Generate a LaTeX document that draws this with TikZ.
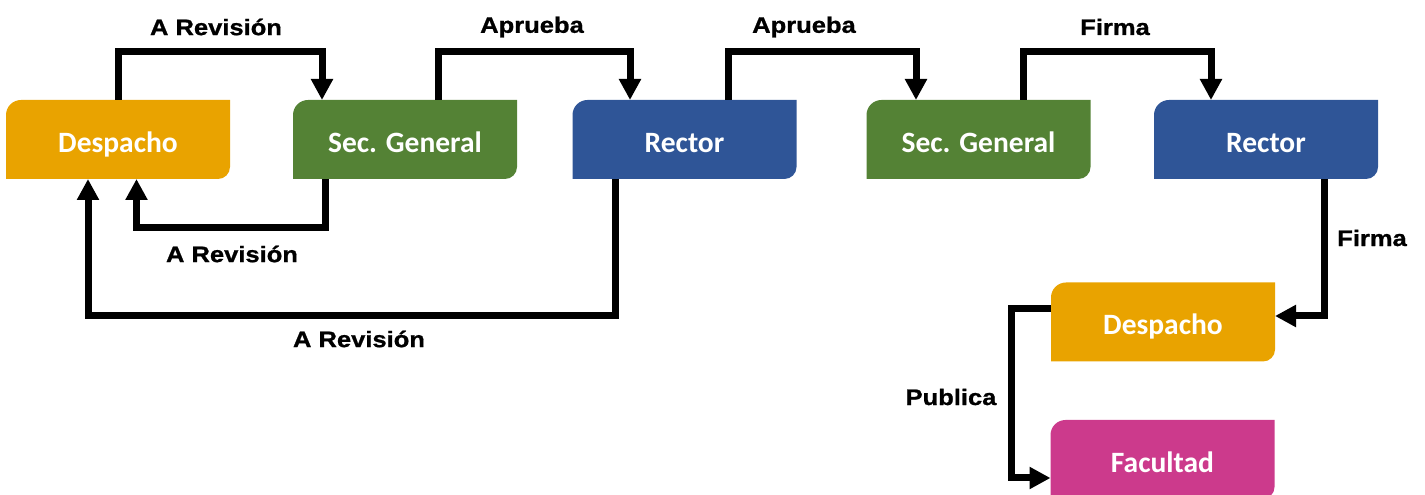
\documentclass[tikz,border=0pt]{standalone}
\usepackage{fontspec}
\setmainfont{Carlito}
\newfontfamily\labfont[FakeStretch=1.14,FakeBold=1]{Liberation Sans}
\usetikzlibrary{arrows.meta,calc}
\definecolor{cgold}{RGB}{233,163,0}
\definecolor{cgreen}{RGB}{84,130,53}
\definecolor{cblue}{RGB}{47,85,151}
\definecolor{cpink}{RGB}{204,58,140}
\tikzset{
  box/.style={minimum width=224pt, minimum height=79pt, inner sep=0pt, outer sep=0pt,
    text height=26pt, text depth=0pt,
    text=white, font=\fontsize{29.5}{31}\selectfont\bfseries,
    path picture={\fill[#1] (path picture bounding box.south west)
      -- ($(path picture bounding box.north west)+(0,-15pt)$)
      arc[start angle=180,end angle=90,radius=15pt]
      -- (path picture bounding box.north east)
      -- ($(path picture bounding box.south east)+(0,12pt)$)
      arc[start angle=0,end angle=-90,radius=12pt] -- cycle;}},
  arr/.style={line width=7pt, line join=miter, -{Triangle[width=21pt,length=21pt]}},
  lab/.style={font=\labfont\fontsize{22.4}{24}\selectfont\bfseries, inner sep=0pt}
}
\begin{document}
\begin{tikzpicture}[x=1pt,y=1pt]
\useasboundingbox (0,0) rectangle (1425,495);
\clip (0,0) rectangle (1425,495);
% boxes
\node[box=cgold]  (d1) at (118,355.5) {Despacho};
\node[box=cgreen] (s1) at (405,355.5) {Sec. General};
\node[box=cblue]  (r1) at (684.5,355.5) {Rector};
\node[box=cgreen] (s2) at (978.5,355.5) {Sec. General};
\node[box=cblue]  (r2) at (1266,355.5) {Rector};
\node[box=cgold]  (d2) at (1163,173) {Despacho};
\node[box=cpink]  (f) at (1162.5,35.5) {Facultad};
% top connectors
\draw[arr] (d1.north) -- ++(0,48.5) -| ($(s1.north)+(-83,0)$);
\draw[arr] ($(s1.north)+(33,0)$) -- ++(0,48.5) -| ($(r1.north)+(-54.5,0)$);
\draw[arr] ($(r1.north)+(43.5,0)$) -- ++(0,48.5) -| ($(s2.north)+(-62.5,0)$);
\draw[arr] ($(s2.north)+(44.5,0)$) -- ++(0,48.5) -| ($(r2.north)+(-55,0)$);
% bottom connectors
\draw[arr] ($(s1.south)+(-80,0)$) -- ++(0,-49) -| ($(d1.south)+(18.5,0)$);
\draw[arr] ($(r1.south)+(-69.5,0)$) -- ++(0,-137) -| ($(d1.south)+(-30,0)$);
\draw[arr] ($(r2.south)+(58,0)$) |- ($(d2.east)+(0,6)$);
\draw[arr] ($(d2.west)+(0,13)$) -- ++(-40,0) |- ($(f.west)+(0,-18.5)$);
% labels
\node[lab] (l1) at (216,468) {A Revisión};
\node[lab] (l2) at (532,468) {Aprueba};
\node[lab] (l3) at (804,468) {Aprueba};
\node[lab] (l4) at (1115,468) {Firma};
\node[lab] (l5) at (232,241) {A Revisión};
\node[lab] (l6) at (359,156) {A Revisión};
\node[lab] (l7) at (1372,257) {Firma};
\node[lab] (l8) at (951,98) {Publica};
\end{tikzpicture}
\end{document}
